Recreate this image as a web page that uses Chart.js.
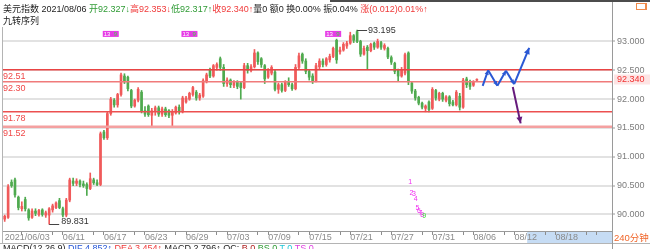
<!DOCTYPE html>
<html>
<head>
<meta charset="utf-8">
<script src="https://cdn.jsdelivr.net/npm/chart.js@4.4.1/dist/chart.umd.min.js"></script>
<style>
html, body { margin: 0; padding: 0; background: #fff; overflow: hidden; }
#wrap { position: relative; width: 650px; height: 249px; overflow: hidden;
  font-family: "Liberation Sans", "Noto Sans CJK SC", sans-serif; }
#c { position: absolute; left: 0; top: 0; }
.txt { position: absolute; white-space: nowrap; font-size: 9px; line-height: 11px; color: #222; }
.g { color: #2f9b35; }
.r { color: #f03a3a; }
.b { color: #2455d6; }
#topbar { position: absolute; left: 330px; top: 0; width: 320px; height: 2px; background: #4c4c4c; }
#icon { position: absolute; left: 636px; top: 3px; width: 8px; height: 5px; border: 1px solid #f08a4a; border-right-width: 2px; }
</style>
</head>
<body>
<div id="wrap">
  <canvas id="c" width="650" height="249"></canvas>
  <div id="topbar"></div>
  <div id="icon"></div>
  <div class="txt" style="left:3px;top:4px">美元指数 2021/08/06 <span class="g">开92.327↓</span><span class="r">高92.353↓</span><span class="g">低92.317↑</span><span class="r">收92.340↑</span>量0 额0 换0.00% 振0.04% <span class="r">涨(0.012)0.01%↑</span></div>
  <div class="txt" style="left:3px;top:16px">九转序列</div>
  <div class="txt" style="left:614px;top:232px;color:#f0662a;font-size:9.5px">240分钟</div>
  <div class="txt" style="left:3px;top:243px">MACD(12,26,9) <span class="b">DIF 4.852↑</span> <span class="r">DEA 3.454↑</span> MACD 2.796↑ OC: <span style="color:#b02020">B 0</span> <span class="g">BS 0</span> <span style="color:#20c8d8">T 0</span> <span style="color:#e040e0">TS 0</span></div>
</div>
<script>
// 4-hour candles, 2021/06/02 .. 2021/08/06
const candleOpen = [
  89.92, 89.95, 90.56, 90.60, 90.30, 90.10, 90.26, 90.08, 89.95, 90.06,
  90.00, 90.08, 89.99, 89.99, 90.08, 90.12, 90.24, 90.10, 89.99, 90.25,
  90.58, 90.54, 90.58, 90.53, 90.52, 90.45, 90.60, 90.55, 90.52, 91.43,
  91.33, 91.75, 91.98, 91.90, 92.08, 92.40, 92.38, 92.15, 91.88, 91.98,
  92.12, 91.80, 91.88, 91.72, 91.80, 91.85, 91.74, 91.83, 91.80, 91.72,
  91.76, 91.86, 91.78, 91.95, 92.00, 92.08, 92.12, 92.02, 92.05, 92.30,
  92.50, 92.40, 92.55, 92.70, 92.55, 92.27, 92.33, 92.24, 92.30, 92.28,
  92.20, 92.58, 92.50, 92.56, 92.80, 92.70, 92.58, 92.38, 92.45, 92.47,
  92.17, 92.25, 92.15, 92.30, 92.25, 92.18, 92.55, 92.78, 92.66, 92.48,
  92.40, 92.32, 92.56, 92.66, 92.60, 92.68, 92.74, 93.02, 92.82, 92.85,
  92.92, 92.97, 93.10, 93.17, 93.00, 92.78, 92.90, 92.84, 92.97, 92.90,
  92.98, 92.88, 92.88, 92.72, 92.62, 92.50, 92.40, 92.45, 92.80, 92.28,
  92.14, 92.03, 91.93, 91.84, 91.95, 91.84, 92.15, 92.00, 92.10, 91.98,
  92.04, 91.95, 91.90, 92.05, 91.86, 92.35, 92.30, 92.24, 92.327
];
const candleHigh = [
  89.99, 90.52, 90.60, 90.63, 90.32, 90.22, 90.30, 90.10, 90.10, 90.10,
  90.09, 90.10, 90.06, 90.12, 90.18, 90.22, 90.28, 90.13, 90.28, 90.63,
  90.63, 90.62, 90.60, 90.58, 90.55, 90.72, 90.63, 90.60, 91.43, 91.46,
  91.78, 92.03, 92.01, 92.10, 92.45, 92.44, 92.40, 92.17, 92.00, 92.20,
  92.15, 91.87, 91.90, 91.84, 91.88, 91.88, 91.86, 91.86, 91.82, 91.82,
  91.88, 91.90, 92.05, 92.05, 92.12, 92.22, 92.15, 92.10, 92.35, 92.45,
  92.54, 92.60, 92.63, 92.73, 92.60, 92.37, 92.35, 92.32, 92.32, 92.30,
  92.62, 92.62, 92.60, 92.86, 92.82, 92.72, 92.60, 92.53, 92.58, 92.50,
  92.28, 92.28, 92.32, 92.37, 92.28, 92.60, 92.80, 92.80, 92.70, 92.50,
  92.44, 92.62, 92.70, 92.70, 92.72, 92.78, 92.90, 93.04, 92.90, 92.98,
  93.00, 93.16, 93.12, 93.195, 93.02, 92.92, 92.93, 92.97, 92.99, 93.04,
  93.00, 92.96, 92.90, 92.75, 92.64, 92.52, 92.55, 92.80, 92.82, 92.30,
  92.17, 92.05, 91.95, 91.90, 91.97, 92.20, 92.17, 92.12, 92.12, 92.06,
  92.06, 91.98, 92.15, 92.10, 92.36, 92.38, 92.33, 92.32, 92.353
];
const candleLow = [
  89.88, 89.93, 90.47, 90.30, 90.08, 90.06, 90.06, 89.90, 89.93, 89.98,
  89.97, 89.97, 89.95, 89.831, 90.04, 90.10, 90.10, 89.96, 89.96, 90.22,
  90.50, 90.50, 90.48, 90.47, 90.33, 90.43, 90.52, 90.50, 90.50, 91.30,
  91.30, 91.72, 91.86, 91.86, 92.05, 92.27, 92.14, 91.85, 91.86, 91.95,
  91.76, 91.70, 91.70, 91.52, 91.72, 91.70, 91.70, 91.70, 91.68, 91.52,
  91.74, 91.74, 91.76, 91.93, 91.98, 92.05, 91.98, 91.98, 92.03, 92.28,
  92.37, 92.38, 92.50, 92.50, 92.22, 92.22, 92.20, 92.20, 92.18, 92.00,
  92.18, 92.45, 92.47, 92.54, 92.60, 92.55, 92.27, 92.36, 92.42, 92.14,
  92.10, 92.12, 92.13, 92.22, 92.15, 92.16, 92.52, 92.62, 92.44, 92.33,
  92.27, 92.30, 92.52, 92.56, 92.57, 92.64, 92.72, 92.62, 92.78, 92.83,
  92.88, 92.95, 92.98, 92.98, 92.74, 92.76, 92.51, 92.82, 92.86, 92.88,
  92.86, 92.85, 92.70, 92.60, 92.44, 92.31, 92.38, 92.42, 92.25, 92.10,
  91.98, 91.90, 91.83, 91.78, 91.78, 91.82, 91.98, 91.97, 91.96, 91.95,
  91.88, 91.88, 91.88, 91.81, 91.84, 92.20, 92.17, 92.22, 92.317
];
const candleClose = [
  89.97, 90.48, 90.50, 90.34, 90.12, 90.14, 90.10, 89.94, 90.06, 90.02,
  90.07, 90.00, 90.03, 90.10, 90.15, 90.20, 90.12, 89.99, 90.25, 90.60,
  90.54, 90.58, 90.52, 90.50, 90.45, 90.62, 90.55, 90.52, 91.40, 91.33,
  91.75, 92.00, 91.90, 92.08, 92.42, 92.30, 92.18, 91.88, 91.98, 92.17,
  91.80, 91.74, 91.73, 91.80, 91.85, 91.74, 91.83, 91.73, 91.72, 91.78,
  91.86, 91.78, 92.02, 92.02, 92.10, 92.20, 92.02, 92.07, 92.32, 92.42,
  92.40, 92.58, 92.60, 92.55, 92.27, 92.33, 92.25, 92.29, 92.22, 92.20,
  92.58, 92.50, 92.56, 92.80, 92.65, 92.60, 92.35, 92.50, 92.55, 92.17,
  92.25, 92.15, 92.30, 92.25, 92.18, 92.55, 92.75, 92.66, 92.48, 92.38,
  92.32, 92.58, 92.66, 92.60, 92.70, 92.74, 92.88, 92.68, 92.85, 92.95,
  92.97, 93.10, 93.02, 93.00, 92.78, 92.88, 92.84, 92.95, 92.90, 93.00,
  92.90, 92.93, 92.73, 92.64, 92.48, 92.40, 92.50, 92.77, 92.30, 92.14,
  92.02, 91.93, 91.86, 91.88, 91.82, 92.17, 92.02, 92.10, 92.00, 92.04,
  91.92, 91.90, 92.12, 91.86, 92.33, 92.25, 92.22, 92.29, 92.340
];

// time axis: one slot per candle, future slots left empty
const slotCount = 178;
const labelIdx = [0, 17, 29, 41, 53, 65, 77, 89, 101, 113, 125, 137, 149, 161];
const labelText = ['2021/06/03', '06/11', '06/17', '06/23', '06/29', '07/03', '07/09',
  '07/15', '07/21', '07/27', '07/31', '08/06', '08/12', '08/18'];
const majorTickIdx = [5, 17, 29, 41, 53, 65, 77, 89, 101, 113, 125, 137, 149, 161, 173];
const minorTickIdx = [14, 26, 38, 50, 62, 74, 86, 98, 110, 122, 134, 146, 158, 170];
const futureFrom = 152.7;

const yTicks = [90, 90.5, 91, 91.5, 92, 92.5, 93];
const yMin = 89.714, yMax = 93.25;

// drawn support / resistance levels
const levelValues = [92.51, 92.30, 91.78, 91.52];
const levelColors = ['#e94444', '#f07a7a', '#ec5050', '#f4a0a0'];
const levelWidths = [1.5, 1.5, 1.5, 2.5];

// forecast arrows (slot index, price)
const blueIdx = [139.7, 141.3, 144.0, 146.5, 148.9, 153.3];
const blueVal = [92.23, 92.50, 92.23, 92.49, 92.26, 92.89];
const purpleIdx = [148.5, 150.8];
const purpleVal = [92.21, 91.58];

// nine-turn sequence digits
const nineText = ['1', '2', '3', '4', '5', '6', '7', '8', '9'];
const nineIdx = [118.5, 118.9, 119.6, 120.1, 120.6, 121.1, 121.5, 122.0, 122.6];
const nineVal = [90.57, 90.37, 90.36, 90.26, 90.11, 90.06, 90.02, 89.99, 89.97];

// small magenta signal flags near the top
const flagIdx = [31, 54, 96];
const flagVal = 93.13;

const RED = '#f05a5a', GREEN = '#4faa4f';

const xLabels = [];
for (let i = 0; i < slotCount; i++) xLabels.push('');
labelIdx.forEach((k, j) => { xLabels[k] = labelText[j]; });

const candleColors = candleClose.map((c, i) => c >= candleOpen[i] ? RED : GREEN);
const wicks = candleHigh.map((h, i) => [candleLow[i], h]);
const bodies = candleOpen.map((o, i) => [o, candleClose[i]]);

Chart.defaults.font.family = '"Liberation Sans", "Noto Sans CJK SC", sans-serif';

function arrowHead(ctx, x1, y1, x2, y2, size) {
  const a = Math.atan2(y2 - y1, x2 - x1);
  ctx.beginPath();
  ctx.moveTo(x2, y2);
  ctx.lineTo(x2 - size * Math.cos(a - 0.45), y2 - size * Math.sin(a - 0.45));
  ctx.lineTo(x2 - size * Math.cos(a + 0.45), y2 - size * Math.sin(a + 0.45));
  ctx.closePath();
  ctx.fill();
}

const overlay = {
  id: 'overlay',
  beforeDraw(chart) {
    const { ctx, scales: { x } } = chart;
    const fx = x.getPixelForValue(futureFrom);
    ctx.save();
    ctx.fillStyle = '#c6dcf4';
    ctx.fillRect(fx, x.top + 1, x.right - fx, 11);
    ctx.restore();
  },
  afterDatasetsDraw(chart) {
    const { ctx, chartArea: a, scales: { x, y } } = chart;
    ctx.save();
    ctx.font = '9px "Liberation Sans", sans-serif';

    // level lines and their labels
    levelValues.forEach((v, i) => {
      const py = y.getPixelForValue(v);
      ctx.strokeStyle = levelColors[i];
      ctx.lineWidth = levelWidths[i];
      ctx.beginPath(); ctx.moveTo(a.left, py); ctx.lineTo(a.right, py); ctx.stroke();
      ctx.fillStyle = '#f04848';
      ctx.textBaseline = 'top';
      ctx.fillText(v.toFixed(2), 3, py + 2);
    });

    // high / low marks
    const hi = Math.max(...candleHigh), hiI = candleHigh.indexOf(hi);
    const lo = Math.min(...candleLow), loI = candleLow.indexOf(lo);
    ctx.strokeStyle = '#444'; ctx.lineWidth = 1; ctx.fillStyle = '#333';
    let px = x.getPixelForValue(hiI), py = Math.round(y.getPixelForValue(hi)) + 0.5;
    ctx.beginPath(); ctx.moveTo(px, py); ctx.lineTo(px + 10, py); ctx.stroke();
    ctx.textBaseline = 'middle';
    ctx.fillText(hi.toFixed(3), px + 11, py);
    px = x.getPixelForValue(loI); py = Math.round(y.getPixelForValue(lo)) + 0.5;
    ctx.beginPath(); ctx.moveTo(px, py); ctx.lineTo(px + 10, py); ctx.stroke();
    ctx.textBaseline = 'bottom';
    ctx.fillText(lo.toFixed(3), px + 12, py + 2);

    // flags
    flagIdx.forEach(k => {
      const fx = x.getPixelForValue(k), fy = y.getPixelForValue(flagVal);
      ctx.fillStyle = '#e63ce6';
      ctx.fillRect(fx - 8, fy - 3, 16, 6);
      ctx.font = '6px "Liberation Sans", sans-serif';
      ctx.textBaseline = 'middle';
      ctx.fillStyle = '#ffffff';
      ctx.fillText('13', fx - 7, fy);
      ctx.fillStyle = '#3ddc3d';
      ctx.fillText('9', fx + 3, fy);
    });

    // nine-turn digits
    ctx.font = '7px "Liberation Sans", sans-serif';
    ctx.textAlign = 'center';
    ctx.textBaseline = 'middle';
    nineText.forEach((t, i) => {
      ctx.fillStyle = i === nineText.length - 1 ? '#33dd33' : '#f030f0';
      ctx.fillText(t, x.getPixelForValue(nineIdx[i]), y.getPixelForValue(nineVal[i]));
    });
    ctx.textAlign = 'left';

    // forecast arrows
    ctx.lineWidth = 2; ctx.lineJoin = 'round';
    ctx.strokeStyle = '#2a58d4'; ctx.fillStyle = '#2a58d4';
    const bp = blueIdx.map((k, i) => [x.getPixelForValue(k), y.getPixelForValue(blueVal[i])]);
    for (let i = 1; i < bp.length; i++) {
      ctx.beginPath(); ctx.moveTo(bp[i - 1][0], bp[i - 1][1]); ctx.lineTo(bp[i][0], bp[i][1]); ctx.stroke();
      arrowHead(ctx, bp[i - 1][0], bp[i - 1][1], bp[i][0], bp[i][1], i === bp.length - 1 ? 7 : 5);
    }
    const pp = purpleIdx.map((k, i) => [x.getPixelForValue(k), y.getPixelForValue(purpleVal[i])]);
    ctx.strokeStyle = '#661a7c'; ctx.fillStyle = '#661a7c';
    ctx.beginPath(); ctx.moveTo(pp[0][0], pp[0][1]); ctx.lineTo(pp[1][0], pp[1][1]); ctx.stroke();
    arrowHead(ctx, pp[0][0], pp[0][1], pp[1][0], pp[1][1], 7);
    ctx.restore();
  },
  afterDraw(chart) {
    const { ctx, chartArea: a, scales: { y } } = chart;
    ctx.save();
    ctx.strokeStyle = '#b4b4b4'; ctx.lineWidth = 1;
    ctx.beginPath(); ctx.moveTo(2.5, a.top); ctx.lineTo(2.5, 243); ctx.stroke();
    ctx.beginPath(); ctx.moveTo(0, 243.5); ctx.lineTo(650, 243.5); ctx.stroke();
    ctx.strokeStyle = '#9a9a9a';
    ctx.beginPath(); ctx.moveTo(a.right + 0.5, 0); ctx.lineTo(a.right + 0.5, 249); ctx.stroke();
    // last price tag
    const last = candleClose[candleClose.length - 1];
    const py = y.getPixelForValue(last);
    ctx.fillStyle = '#fde4e4';
    ctx.fillRect(a.right + 2, py - 5, 650 - a.right - 2, 10);
    ctx.fillStyle = '#f03030';
    ctx.font = '9px "Liberation Sans", sans-serif';
    ctx.textBaseline = 'middle';
    ctx.fillText(last.toFixed(3), a.right + 5, py);
    ctx.restore();
  }
};

new Chart(document.getElementById('c'), {
  type: 'bar',
  data: {
    labels: xLabels,
    datasets: [
      {
        data: wicks,
        backgroundColor: candleColors,
        barThickness: 1,
        grouped: false,
        order: 2
      },
      {
        data: bodies,
        backgroundColor: candleColors,
        barThickness: 2,
        minBarLength: 1,
        grouped: false,
        order: 1
      }
    ]
  },
  options: {
    responsive: false,
    animation: false,
    layout: { padding: { left: 3, top: 27, right: 0, bottom: 0 } },
    plugins: { legend: { display: false }, tooltip: { enabled: false } },
    scales: {
      x: {
        grid: {
          display: true,
          drawOnChartArea: false,
          offset: false,
          tickLength: 4,
          tickColor: c => (majorTickIdx.includes(c.index) || minorTickIdx.includes(c.index)) ? '#8c8c8c' : 'rgba(0,0,0,0)'
        },
        border: { display: true, color: '#9a9a9a' },
        ticks: {
          autoSkip: false,
          maxRotation: 0,
          minRotation: 0,
          align: 'start',
          padding: -3,
          color: '#8a8a8a',
          font: { size: 9 }
        },
        afterFit: s => { s.height = 18; }
      },
      y: {
        position: 'right',
        min: yMin,
        max: yMax,
        afterBuildTicks: s => { s.ticks = yTicks.map(v => ({ value: v })); },
        grid: { color: '#e2e2e2', lineWidth: 2, tickLength: 3, tickColor: '#9a9a9a', tickWidth: 1 },
        border: { display: false },
        ticks: {
          color: '#7c7c7c',
          padding: 2,
          font: { size: 9 },
          callback: v => Number(v).toFixed(3)
        },
        afterFit: s => { s.width = 38; }
      }
    }
  },
  plugins: [overlay]
});
</script>
</body>
</html>
